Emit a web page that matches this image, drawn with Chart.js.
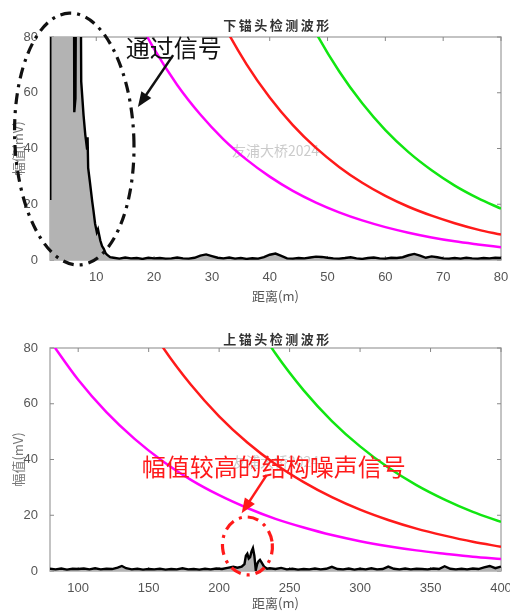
<!DOCTYPE html>
<html>
<head>
<meta charset="utf-8">
<script src="https://cdn.jsdelivr.net/npm/chart.js@4/dist/chart.umd.min.js"></script>
<style>
body { margin: 0; background: #fff; }
canvas { display: block; }
</style>
</head>
<body>
<canvas id="chart1" width="510" height="310"></canvas>
<canvas id="chart2" width="510" height="301"></canvas>
<script>
var yTicks = [0, 20, 40, 60, 80];
var topXTicks = [10, 20, 30, 40, 50, 60, 70, 80];
var botXTicks = [100, 150, 200, 250, 300, 350, 400];

// 下锚头: measured waveform (m, mV)
var topSigX = [2, 2.05, 6.1, 6.2, 6.4, 6.6, 7.2, 7.4, 7.8, 8.1, 8.4, 8.5, 8.6, 8.9, 9.3, 9.5, 9.8, 10.1, 10.3, 10.7, 11.0, 11.3, 11.6, 11.9, 12.4,
	13, 14, 15, 16, 17, 18, 19, 20, 21, 22, 23, 24, 25, 26, 27, 28, 29, 30, 31, 32, 33, 34, 35, 36, 37, 38, 39, 40,
	41, 42, 43, 44, 45, 46, 47, 48, 49, 50, 51, 52, 53, 54, 55, 56, 57, 58, 59, 60, 61, 62, 63, 64, 65, 66, 67, 68,
	69, 70, 71, 72, 73, 74, 75, 76, 77, 78, 79, 80];
var topSigY = [22, 150, 150, 53, 58, 150, 150, 64, 52, 45, 40, 44, 33, 28, 21, 18, 13, 10, 11, 7, 5, 4, 2.5, 1.8, 1.0,
	0.8, 0.5, 0.9, 0.6, 0.7, 0.4, 0.8, 0.6, 0.7, 0.5, 0.6, 0.9, 0.6, 0.5, 0.8, 1.6, 2.0, 1.4, 0.8, 0.6, 0.9, 0.5, 0.7, 0.4, 0.6, 0.5, 1.0, 1.9,
	2.3, 1.5, 0.6, 0.5, 0.7, 0.6, 0.9, 1.2, 1.1, 0.8, 0.6, 0.5, 0.7, 1.0, 0.6, 0.4, 0.7, 0.9, 0.6, 0.5, 0.8, 0.7, 1.0, 1.7, 2.2, 1.6, 0.8, 1.3,
	1.0, 0.6, 0.5, 0.7, 0.5, 0.8, 0.6, 0.5, 0.7, 0.6, 0.8, 0.7];
// 下锚头: threshold curves
var topMagX = [16, 20, 24, 28, 32, 36, 40, 44, 48, 52, 56, 60, 64, 68, 72, 76, 80];
var topMagY = [91.2, 75.7, 62.8, 52.2, 43.3, 36.0, 29.9, 24.8, 20.6, 17.1, 14.2, 11.8, 9.8, 8.1, 6.7, 5.6, 4.6];
var topRedX = [28, 32, 36, 40, 44, 48, 52, 56, 60, 64, 68, 72, 76, 80];
var topRedY = [101.9, 84.6, 70.2, 58.3, 48.4, 40.2, 33.4, 27.7, 23.0, 19.1, 15.9, 13.2, 10.9, 9.1];
var topGrnX = [44, 48, 52, 56, 60, 64, 68, 72, 76, 80];
var topGrnY = [98.2, 81.5, 67.7, 56.2, 46.6, 38.7, 32.2, 26.7, 22.2, 18.4];

// 上锚头: measured waveform
var botSigX = [80, 84, 88, 92, 96, 100, 104, 108, 112, 116, 120, 124, 128, 131, 134,
	138, 142, 146, 150, 154, 158, 162, 166, 170, 174, 178, 182, 186, 190, 194, 198, 202, 206, 210,
	213, 216, 218, 219, 220, 221, 222, 223, 224, 225, 226, 227, 228, 229, 230, 232, 234, 236,
	240, 244, 248, 252, 256, 260, 264, 268, 272, 276, 280, 284, 288, 292, 296, 300, 304, 308, 312, 316,
	320, 324, 328, 332, 336, 340, 344, 348, 352, 356, 360, 364, 368, 372, 376, 380, 384, 388, 392, 396, 400];
var botSigY = [0.8, 0.6, 0.9, 0.5, 0.8, 0.7, 0.9, 0.6, 1.0, 0.6, 0.8, 0.7, 1.2, 1.8, 1.0,
	0.6, 0.8, 0.5, 0.7, 0.6, 0.8, 0.5, 0.7, 0.6, 1.0, 0.6, 0.7, 0.5, 0.8, 0.6, 0.9, 0.7, 1.1, 1.5,
	1.2, 1.6, 2.5, 5.5, 6.2, 4.5, 5.0, 7.0, 8.2, 5.5, 0.3, 2.5, 3.5, 4.0, 3.2, 1.5, 0.8, 1.0,
	0.7, 1.1, 0.6, 0.8, 0.5, 0.7, 0.6, 0.9, 0.6, 0.8, 1.5, 0.7, 0.6, 0.9, 0.5, 0.8, 0.6, 1.0, 0.6, 0.7,
	1.6, 0.8, 0.6, 0.9, 0.6, 0.8, 0.7, 0.6, 0.9, 0.7, 1.7, 0.8, 0.6, 0.8, 0.6, 0.9, 0.7, 1.3, 1.8, 1.0, 1.6];
// 上锚头: threshold curves
var botMagX = [80, 100, 120, 140, 160, 180, 200, 220, 240, 260, 280, 300, 320, 340, 360, 380, 400];
var botMagY = [82.6, 68.6, 57.0, 47.4, 39.4, 32.7, 27.2, 22.6, 18.7, 15.6, 12.9, 10.7, 8.9, 7.4, 6.2, 5.1, 4.3];
var botRedX = [140, 160, 180, 200, 220, 240, 260, 280, 300, 320, 340, 360, 380, 400];
var botRedY = [96.7, 80.3, 66.8, 55.5, 46.1, 38.3, 31.9, 26.5, 22.0, 18.3, 15.2, 12.7, 10.5, 8.7];
var botGrnX = [220, 240, 260, 280, 300, 320, 340, 360, 380, 400];
var botGrnY = [94.0, 78.0, 64.8, 53.8, 44.7, 37.1, 30.8, 25.6, 21.2, 17.6];

var sans = "'Liberation Sans', Arial, sans-serif";
var cjk = "'Noto Sans CJK SC', 'Liberation Sans', sans-serif";

function pts(xs, ys) {
	return xs.map(function (x, i) { return {x: x, y: ys[i]}; });
}

function signal(xs, ys) {
	return {data: pts(xs, ys), borderColor: '#000', borderWidth: 2.4, pointRadius: 0,
		fill: 'origin', backgroundColor: '#b3b3b3', tension: 0};
}

function curve(xs, ys, color) {
	return {data: pts(xs, ys), borderColor: color, borderWidth: 2.5, pointRadius: 0,
		fill: false, cubicInterpolationMode: 'monotone'};
}

// frame, inward ticks, title, watermark and the hand-drawn notes
function overlay(o) {
	return {
		id: 'overlay',
		beforeDatasetsDraw: function (chart) {
			var ctx = chart.ctx, a = chart.chartArea;
			ctx.save();
			ctx.font = '14px ' + cjk;
			ctx.fillStyle = 'rgba(160,160,160,0.55)';
			ctx.textAlign = 'center';
			ctx.textBaseline = 'middle';
			ctx.fillText('友浦大桥2024', (a.left + a.right) / 2, (a.top + a.bottom) / 2 + 2);
			ctx.strokeStyle = '#b0b0b0';
			ctx.lineWidth = 1.5;
			ctx.strokeRect(a.left, a.top, a.right - a.left, a.bottom - a.top);
			ctx.strokeStyle = '#888';
			ctx.lineWidth = 1;
			chart.scales.x.ticks.forEach(function (t) {
				var px = chart.scales.x.getPixelForValue(t.value);
				ctx.beginPath();
				ctx.moveTo(px, a.top); ctx.lineTo(px, a.top + 4);
				ctx.moveTo(px, a.bottom); ctx.lineTo(px, a.bottom - 4);
				ctx.stroke();
			});
			chart.scales.y.ticks.forEach(function (t) {
				var py = chart.scales.y.getPixelForValue(t.value);
				ctx.beginPath();
				ctx.moveTo(a.left, py); ctx.lineTo(a.left + 4, py);
				ctx.moveTo(a.right, py); ctx.lineTo(a.right - 4, py);
				ctx.stroke();
			});
			ctx.restore();
		},
		afterDraw: function (chart) {
			var ctx = chart.ctx, a = chart.chartArea;
			var xs = chart.scales.x, ys = chart.scales.y;
			ctx.save();
			// title
			ctx.font = 'bold 13px ' + cjk;
			ctx.fillStyle = '#333';
			ctx.textAlign = 'center';
			ctx.textBaseline = 'middle';
			ctx.letterSpacing = '2.5px';
			ctx.fillText(o.title, (a.left + a.right) / 2 + 2, a.top - o.titleGap);
			ctx.letterSpacing = '0px';
			// note text
			ctx.font = '24px ' + cjk;
			ctx.fillStyle = o.color;
			ctx.textAlign = 'left';
			ctx.fillText(o.note, xs.getPixelForValue(o.noteAt[0]), ys.getPixelForValue(o.noteAt[1]));
			// arrow
			var x1 = xs.getPixelForValue(o.arrow[0]), y1 = ys.getPixelForValue(o.arrow[1]);
			var x2 = xs.getPixelForValue(o.arrow[2]), y2 = ys.getPixelForValue(o.arrow[3]);
			var ang = Math.atan2(y2 - y1, x2 - x1);
			ctx.strokeStyle = o.color;
			ctx.lineWidth = 2.5;
			ctx.beginPath();
			ctx.moveTo(x1, y1);
			ctx.lineTo(x2 - 10 * Math.cos(ang), y2 - 10 * Math.sin(ang));
			ctx.stroke();
			ctx.beginPath();
			ctx.moveTo(x2, y2);
			ctx.lineTo(x2 - 15 * Math.cos(ang) + 6 * Math.sin(ang), y2 - 15 * Math.sin(ang) - 6 * Math.cos(ang));
			ctx.lineTo(x2 - 15 * Math.cos(ang) - 6 * Math.sin(ang), y2 - 15 * Math.sin(ang) + 6 * Math.cos(ang));
			ctx.closePath();
			ctx.fill();
			// dash-dot ellipse
			var cx = xs.getPixelForValue(o.ring[0]), cy = ys.getPixelForValue(o.ring[1]);
			var rx = Math.abs(xs.getPixelForValue(o.ring[0] + o.ring[2]) - cx);
			var ry = Math.abs(ys.getPixelForValue(o.ring[1] + o.ring[3]) - cy);
			ctx.lineWidth = 3.2;
			ctx.setLineDash([11, 6, 3, 6]);
			ctx.beginPath();
			ctx.ellipse(cx, cy, rx, ry, o.ring[4], 0, Math.PI * 2);
			ctx.stroke();
			ctx.restore();
		}
	};
}

function makeChart(id, opt) {
	var ctx = document.getElementById(id).getContext('2d');
	return new Chart(ctx, {
		type: 'line',
		data: {datasets: opt.datasets},
		options: {
			responsive: false,
			animation: false,
			layout: {padding: {top: opt.padTop, right: 9, left: 0, bottom: 0}},
			plugins: {legend: {display: false}, tooltip: {enabled: false}, title: {display: false}},
			scales: {
				x: {
					type: 'linear', min: opt.xMin, max: opt.xMax,
					afterBuildTicks: function (s) { s.ticks = opt.xTicks.map(function (v) { return {value: v}; }); },
					afterFit: function (s) { s.height = opt.xHeight; s.paddingLeft = 0; s.paddingRight = 0; },
					grid: {display: false}, border: {display: false},
					ticks: {padding: 2, color: '#555', autoSkip: false, maxRotation: 0, font: {family: sans, size: 13}},
					title: {display: true, text: '距离(m)', color: '#555', font: {family: cjk, size: 13},
						padding: {top: 0, bottom: opt.xTitlePad}}
				},
				y: {
					min: 0, max: 80,
					afterBuildTicks: function (s) { s.ticks = yTicks.map(function (v) { return {value: v}; }); },
					afterFit: function (s) { s.width = 50; s.paddingTop = 0; s.paddingBottom = 0; },
					grid: {display: false}, border: {display: false},
					ticks: {padding: 4, color: '#555', font: {family: sans, size: 13}},
					title: {display: true, text: '幅值(mV)', color: '#777', font: {family: cjk, size: 13},
						padding: {top: 10, bottom: 0}}
				}
			}
		},
		plugins: [overlay(opt.overlay)]
	});
}

makeChart('chart1', {
	datasets: [signal(topSigX, topSigY), curve(topMagX, topMagY, '#ff00ff'),
		curve(topRedX, topRedY, '#ff1a1a'), curve(topGrnX, topGrnY, '#11e611')],
	xMin: 2, xMax: 80, xTicks: topXTicks, padTop: 37, xHeight: 50, xTitlePad: 6,
	overlay: {title: '下锚头检测波形', titleGap: 12, color: '#111', note: '通过信号',
		noteAt: [15.1, 76.2], arrow: [23.3, 73.5, 17.2, 54.9], ring: [6.2, 43.4, 10.3, 45.2, -0.04]}
});

makeChart('chart2', {
	datasets: [signal(botSigX, botSigY), curve(botMagX, botMagY, '#ff00ff'),
		curve(botRedX, botRedY, '#ff1a1a'), curve(botGrnX, botGrnY, '#11e611')],
	xMin: 80, xMax: 400, xTicks: botXTicks, padTop: 38, xHeight: 40, xTitlePad: 0,
	overlay: {title: '上锚头检测波形', titleGap: 9, color: '#ff1a1a', note: '幅值较高的结构噪声信号',
		noteAt: [145.1, 37.4], arrow: [233.7, 34.4, 216.0, 20.7], ring: [220.1, 9.0, 17.7, 10.4, -0.1]}
});
</script>
</body>
</html>
